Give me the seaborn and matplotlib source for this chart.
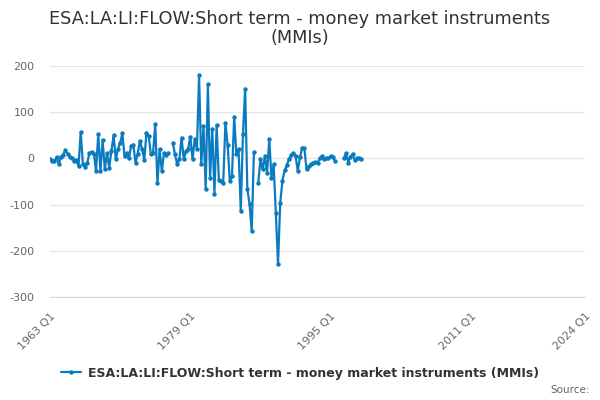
import numpy as np
import pandas as pd
import matplotlib
matplotlib.use("Agg")
import matplotlib.pyplot as plt
import seaborn as sns

sns.set_style("white")
plt.rcParams['font.family'] = ['DejaVu Sans']

series_name = "ESA:LA:LI:FLOW:Short term - money market instruments (MMIs)"
start_year = 1963
# quarterly values from 1963 Q1, NaN = no observation
values = [
    -1, -5, -6, 3, -13, 4, 8, 18, 9, 4,
    0, -6, -3, -17, 57, -12, -18, -10, 12, 14,
    10, -27, 52, -27, 40, -24, 12, -20, 16, 50,
    -2, 20, 34, 54, 5, 12, 0, 27, 30, -9,
    10, 38, 20, -4, 56, 49, 9, 12, 74, -54,
    20, -28, 12, 8, 12, np.nan, 34, 9, -13, -2,
    45, -2, 16, 20, 47, -2, 41, 21, 180, -13,
    70, -67, 161, -42, 64, -76, 72, -46, -49, -53,
    76, 30, -49, -38, 90, 9, 20, -113, 52, 151,
    -67, -98, -158, 14, np.nan, -53, -1, -24, 5, -31,
    41, -42, -13, -118, -228, -96, -49, -26, -15, -1,
    7, 12, 5, -27, 2, 23, 22, -24, -17, -13,
    -9, -8, -10, 0, 5, -2, 1, 0, 5, 2,
    -6, np.nan, np.nan, np.nan, 0, 11, -9, 4, 9, -4,
    0, 1, -2,
]
major_ticks = [1963, 1979, 1995, 2011, 2024]
major_labels = ["1963 Q1", "1979 Q1", "1995 Q1", "2011 Q1", "2024 Q1"]
y_ticks = [-300, -200, -100, 0, 100, 200]

df = pd.DataFrame({"value": values})
df["t"] = start_year + np.arange(len(df)) / 4.0
df["segment"] = df["value"].isna().cumsum()
df = df.dropna()

color = "#0a7bc1"
fig = plt.figure(figsize=(6, 4), dpi=100)
ax = fig.add_axes([50 / 600, 1 - 297 / 400, 535 / 600, 231 / 400])

first = True
for seg, part in df.groupby("segment"):
    sns.lineplot(data=part, x="t", y="value", ax=ax, color=color,
                 linewidth=1.6, marker="o", markersize=3.2,
                 markeredgewidth=0, label=series_name if first else None,
                 legend=False)
    first = False

for s in ["top", "right", "left"]:
    ax.spines[s].set_visible(False)
ax.spines["bottom"].set_color("#ccd6eb")

ax.set_xlim(1963, 2024)
ax.set_ylim(-300, 200)
ax.set_xlabel("")
ax.set_ylabel("")
ax.yaxis.grid(True, color="#e6e6e6", linewidth=0.9)

ax.set_yticks(y_ticks)
ax.set_yticklabels([str(v) for v in y_ticks])
ax.tick_params(axis="y", length=0, pad=11, labelsize=8, labelcolor="#666666")

ax.set_xticks(major_ticks)
ax.set_xticklabels(major_labels)
ax.set_xticks(list(range(1963, 2020, 4)), minor=True)
ax.tick_params(axis="x", which="both", length=7, color="#ccd6eb",
               direction="out", pad=3, labelsize=8, labelcolor="#666666")
plt.setp(ax.get_xticklabels(), rotation=45, ha="right",
         rotation_mode="anchor")

fig.text(0.5, 0.975, "ESA:LA:LI:FLOW:Short term - money market instruments\n(MMIs)",
         ha="center", va="top", fontsize=12.8, color="#333333", linespacing=1.1)

handles, labels = ax.get_legend_handles_labels()
leg = fig.legend(handles, labels, loc="center", bbox_to_anchor=(0.5, 0.067),
                 frameon=False, fontsize=9, handlelength=1.6,
                 handletextpad=0.5)
for txt in leg.get_texts():
    txt.set_fontweight("bold")
    txt.set_color("#333333")

fig.text(0.983, 0.025, "Source:", ha="right", va="center",
         fontsize=7.5, color="#666666")

fig.savefig("out.png", dpi=100)
